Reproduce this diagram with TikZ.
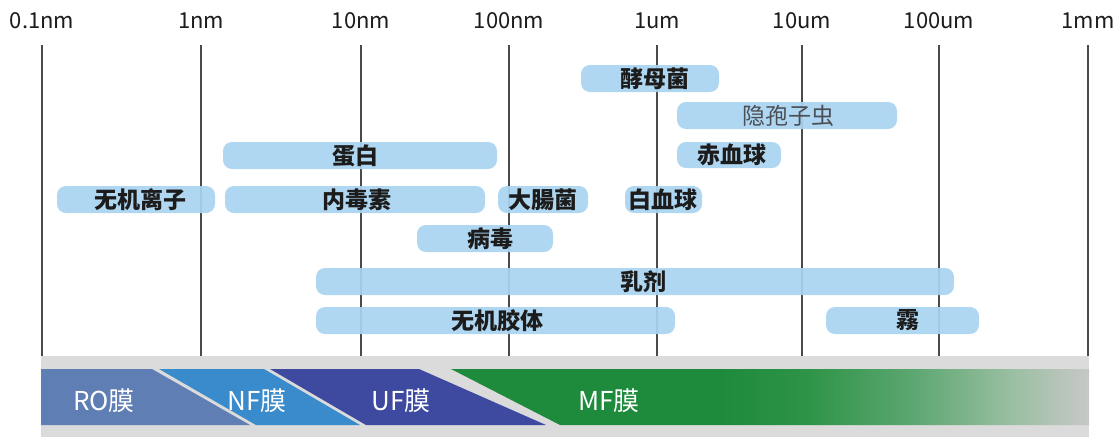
\documentclass[tikz,border=0pt]{standalone}
\usepackage{fontspec}
\setmainfont{Noto Sans CJK SC}
\newfontfamily\cjk{Noto Sans CJK SC}
\definecolor{pillblue}{HTML}{AAD4F1}
\definecolor{txt}{HTML}{1C1C1C}
\definecolor{softtxt}{HTML}{4A4F55}
\definecolor{tick}{HTML}{4A4A4A}
\definecolor{band}{HTML}{DBDBDB}
\definecolor{ro}{HTML}{5E7EB4}
\definecolor{nf}{HTML}{3A8BCB}
\definecolor{uf}{HTML}{3D4AA0}
\definecolor{mf}{HTML}{1E8A3B}
\definecolor{mftwo}{HTML}{2E9447}
\definecolor{mfthree}{HTML}{5BA670}
\definecolor{mffour}{HTML}{9BBFA2}
\definecolor{mfend}{HTML}{C6C8C6}
\pgfdeclarehorizontalshading{mfshade}{100bp}{color(0bp)=(mf); color(34bp)=(mf); color(46bp)=(mf); color(53bp)=(mftwo); color(61bp)=(mfthree); color(69bp)=(mffour); color(75bp)=(mfend); color(100bp)=(mfend)}
\begin{document}
\begin{tikzpicture}[x=1pt,y=-1pt,
  scalelbl/.style={font=\cjk\fontsize{22}{22}\selectfont, text=txt, inner sep=0pt, anchor=base},
  tickline/.style={draw=tick, line width=1.6pt},
  pill/.style={fill=pillblue, fill opacity=0.92, rounded corners=9pt},
  pilltxt/.style={font=\cjk\bfseries\fontsize{23}{23}\selectfont, text=txt, inner sep=0pt},
  softpilltxt/.style={font=\cjk\fontsize{23}{23}\selectfont, text=softtxt, inner sep=0pt},
  memtxt/.style={font=\cjk\fontsize{26}{26}\selectfont, text=white, inner sep=0pt, anchor=base}]
\useasboundingbox (0,0) rectangle (1118,437);
\fill[white] (0,0) rectangle (1118,437);
% scale labels and lines
\foreach \x/\t/\n in {42/0.1nm/a,201/1nm/b,361/10nm/c,509/100nm/d,657/1um/e,802/10um/f,939/100um/g,1088/1mm/h}{
  \node[scalelbl] (lbl\n) at (\x,28) {\t};
  \coordinate (top\n) at (\x,45);
  \coordinate (bot\n) at (\x,356);
  \draw[tickline] (top\n) -- (bot\n);
}
% pills
\path[pill] (581,65) rectangle (719,92);
\node[pilltxt] (yeast) at (655,78.5) {酵母菌};
\path[pill] (677,102) rectangle (897,129);
\node[softpilltxt] (crypto) at (788,115.5) {隐孢子虫};
\path[pill] (677,142) rectangle (781,168);
\node[pilltxt] (rbc) at (732,155) {赤血球};
\path[pill] (223,142) rectangle (497,169);
\node[pilltxt] (protein) at (355,155.5) {蛋白};
\path[pill] (57,186) rectangle (215,213);
\node[pilltxt] (ion) at (140,199.5) {无机离子};
\path[pill] (225,186) rectangle (485,213);
\node[pilltxt] (endo) at (357,199.5) {内毒素};
\path[pill] (498,186) rectangle (588,213);
\node[pilltxt] (ecoli) at (543,199.5) {大腸菌};
\path[pill] (625,186) rectangle (702,213);
\node[pilltxt] (wbc) at (663,199.5) {白血球};
\path[pill] (417,225) rectangle (553,252);
\node[pilltxt] (virus) at (490,238.5) {病毒};
\path[pill] (316,268) rectangle (954,295);
\node[pilltxt] (emul) at (643,281.5) {乳剂};
\path[pill] (316,307) rectangle (675,334);
\node[pilltxt] (colloid) at (497,320.5) {无机胶体};
\path[pill] (826,307) rectangle (979,334);
\node[pilltxt] (fog) at (908,320.5) {霧};
% membrane band
\fill[band] (41,356) rectangle (1089,437);
\fill[ro] (41,369) -- (152,369) -- (250,425) -- (41,425) -- cycle;
\fill[nf] (159,369) -- (264,369) -- (360,425) -- (256,425) -- cycle;
\fill[uf] (270,369) -- (419,369) -- (546,425) -- (366,425) -- cycle;
\path[shading=mfshade] (451,369) -- (1089,369) -- (1089,425) -- (560,425) -- cycle;
\node[memtxt] (ro) at (104,410) {RO膜};
\node[memtxt] (nf) at (257,410) {NF膜};
\node[memtxt] (uf) at (401,410) {UF膜};
\node[memtxt] (mf) at (609,410) {MF膜};
\end{tikzpicture}
\end{document}
